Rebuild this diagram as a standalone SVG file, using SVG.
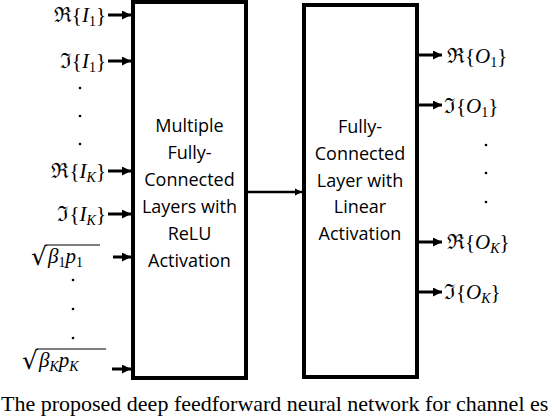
<svg xmlns="http://www.w3.org/2000/svg" width="554" height="416" viewBox="0 0 554 416">
<defs>
<style>
.box{fill:#fff;stroke:#000;stroke-width:4}
.lbl{font-family:"Open Sans",sans-serif;font-size:18px;fill:#000;text-anchor:middle}
.m{font-family:"Liberation Serif","DejaVu Serif",serif;font-size:21px;fill:#000}
.i{font-style:italic}
.s{font-size:14px}
.r{font-family:"DejaVu Serif",serif;font-size:25px}
.c{stroke:#000;stroke-width:3;fill:none}
.c2{stroke:#000;stroke-width:2.5;fill:none}
.dot{fill:#000}
.cap{font-family:"Liberation Serif",serif;font-size:22px;fill:#000}
</style>
<marker id="ah" viewBox="0 0 10 10" refX="10" refY="5" markerWidth="3" markerHeight="3" orient="auto" markerUnits="strokeWidth">
<path d="M0,0 L10,5 L0,10 z" fill="#000"/>
</marker>
</defs>
<rect width="554" height="416" fill="#fff"/>
<g id="node-hidden">
<rect class="box" x="133" y="2" width="113" height="376"/>
<text class="lbl" x="189.5" y="132">Multiple</text>
<text class="lbl" x="189.5" y="159">Fully-</text>
<text class="lbl" x="189.5" y="186">Connected</text>
<text class="lbl" x="189.5" y="213">Layers with</text>
<text class="lbl" x="189.5" y="240">ReLU</text>
<text class="lbl" x="189.5" y="267">Activation</text>
</g>
<g id="node-output">
<rect class="box" x="304" y="5" width="113" height="372"/>
<text class="lbl" x="360" y="133">Fully-</text>
<text class="lbl" x="360" y="160">Connected</text>
<text class="lbl" x="360" y="187">Layer with</text>
<text class="lbl" x="360" y="213">Linear</text>
<text class="lbl" x="360" y="240">Activation</text>
</g>
<g id="inputs">
<text class="m" x="106" y="22" text-anchor="end">ℜ{<tspan class="i">I</tspan><tspan class="s" dy="4">1</tspan><tspan dy="-4">}</tspan></text>
<text class="m" x="106" y="68" text-anchor="end">ℑ{<tspan class="i">I</tspan><tspan class="s" dy="4">1</tspan><tspan dy="-4">}</tspan></text>
<text class="m" x="106" y="178" text-anchor="end">ℜ{<tspan class="i">I</tspan><tspan class="s i" dy="4">K</tspan><tspan dy="-4">}</tspan></text>
<text class="m" x="106" y="221" text-anchor="end">ℑ{<tspan class="i">I</tspan><tspan class="s i" dy="4">K</tspan><tspan dy="-4">}</tspan></text>
<text class="m r" x="31" y="265">√</text>
<line x1="46" y1="245" x2="100" y2="245" stroke="#000" stroke-width="1.2"/>
<text class="m" x="48" y="263"><tspan class="i">β</tspan><tspan class="s" dy="4">1</tspan><tspan class="i" dy="-4">p</tspan><tspan class="s" dy="4">1</tspan></text>
<text class="m r" x="22" y="369">√</text>
<line x1="37" y1="349" x2="106" y2="349" stroke="#000" stroke-width="1.2"/>
<text class="m" x="39" y="367"><tspan class="i">β</tspan><tspan class="s i" dy="4">K</tspan><tspan class="i" dy="-4">p</tspan><tspan class="s i" dy="4">K</tspan></text>
<circle class="dot" cx="80" cy="88" r="1.3"/>
<circle class="dot" cx="80" cy="116" r="1.3"/>
<circle class="dot" cx="80" cy="144" r="1.3"/>
<circle class="dot" cx="73" cy="280" r="1.3"/>
<circle class="dot" cx="73" cy="309" r="1.3"/>
<circle class="dot" cx="73" cy="338" r="1.3"/>
</g>
<g id="outputs">
<text class="m" x="447" y="63">ℜ{<tspan class="i">O</tspan><tspan class="s" dy="4">1</tspan><tspan dy="-4">}</tspan></text>
<text class="m" x="444" y="113">ℑ{<tspan class="i">O</tspan><tspan class="s" dy="4">1</tspan><tspan dy="-4">}</tspan></text>
<text class="m" x="447" y="249">ℜ{<tspan class="i">O</tspan><tspan class="s i" dy="4">K</tspan><tspan dy="-4">}</tspan></text>
<text class="m" x="444" y="299">ℑ{<tspan class="i">O</tspan><tspan class="s i" dy="4">K</tspan><tspan dy="-4">}</tspan></text>
<circle class="dot" cx="486" cy="145" r="1.3"/>
<circle class="dot" cx="486" cy="173" r="1.3"/>
<circle class="dot" cx="486" cy="202" r="1.3"/>
</g>
<g id="connectors">
<line class="c" x1="108" y1="15" x2="131" y2="15" marker-end="url(#ah)"/>
<line class="c" x1="108" y1="61" x2="131" y2="61" marker-end="url(#ah)"/>
<line class="c" x1="108" y1="171" x2="131" y2="171" marker-end="url(#ah)"/>
<line class="c" x1="108" y1="214" x2="131" y2="214" marker-end="url(#ah)"/>
<line class="c" x1="113" y1="257" x2="131" y2="257" marker-end="url(#ah)"/>
<line class="c" x1="112" y1="369" x2="131" y2="369" marker-end="url(#ah)"/>
<line class="c2" x1="248" y1="192" x2="302" y2="192" marker-end="url(#ah)"/>
<line class="c" x1="419" y1="55" x2="442" y2="55" marker-end="url(#ah)"/>
<line class="c" x1="419" y1="105" x2="442" y2="105" marker-end="url(#ah)"/>
<line class="c" x1="419" y1="242" x2="442" y2="242" marker-end="url(#ah)"/>
<line class="c" x1="419" y1="292" x2="442" y2="292" marker-end="url(#ah)"/>
</g>
<text class="cap" x="1" y="411">The proposed deep feedforward neural network for channel es</text>
</svg>
